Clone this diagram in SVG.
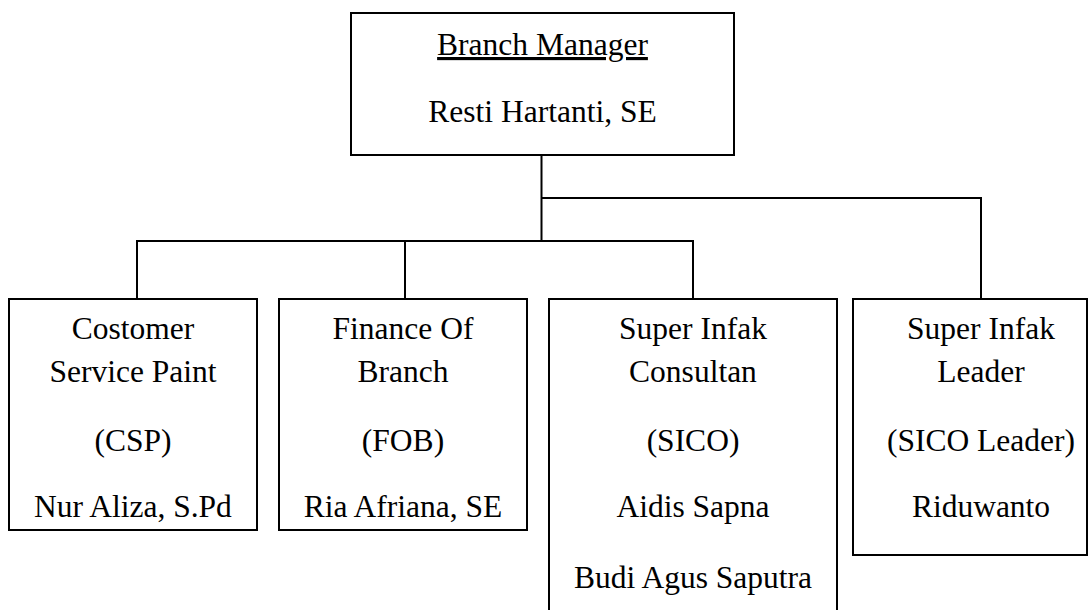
<svg xmlns="http://www.w3.org/2000/svg" width="1089" height="610" viewBox="0 0 1089 610">
<style>
.box{fill:#fff;stroke:#000;stroke-width:2}
.con{fill:none;stroke:#000;stroke-width:2}
text{font-family:"Liberation Serif","Times New Roman",serif;font-size:31.5px;fill:#000;text-anchor:middle}
</style>
<rect width="1089" height="610" fill="#fff"/>
<g id="connectors">
<path class="con" d="M541.5 155 V241 M137 299 V241 H693 V299 M405 241 V299 M541.5 198 H981 V299"/>
</g>
<g id="branch-manager">
<rect class="box" x="351" y="13" width="383" height="142"/>
<text x="542.5" y="55" text-decoration="underline">Branch Manager</text>
<text x="542.5" y="122">Resti Hartanti, SE</text>
</g>
<g id="csp">
<rect class="box" x="9" y="299" width="248" height="231"/>
<text x="133" y="339">Costomer</text>
<text x="133" y="382">Service Paint</text>
<text x="133" y="451">(CSP)</text>
<text x="133" y="517">Nur Aliza, S.Pd</text>
</g>
<g id="fob">
<rect class="box" x="279" y="299" width="248" height="231"/>
<text x="403" y="339">Finance Of</text>
<text x="403" y="382">Branch</text>
<text x="403" y="451">(FOB)</text>
<text x="403" y="517">Ria Afriana, SE</text>
</g>
<g id="sico">
<rect class="box" x="549" y="299" width="288" height="330"/>
<text x="693" y="339">Super Infak</text>
<text x="693" y="382">Consultan</text>
<text x="693" y="451">(SICO)</text>
<text x="693" y="517">Aidis Sapna</text>
<text x="693" y="588">Budi Agus Saputra</text>
</g>
<g id="sico-leader">
<rect class="box" x="853" y="299" width="234" height="256"/>
<text x="981" y="339">Super Infak</text>
<text x="981" y="382">Leader</text>
<text x="981" y="451">(SICO Leader)</text>
<text x="981" y="517">Riduwanto</text>
</g>
</svg>
